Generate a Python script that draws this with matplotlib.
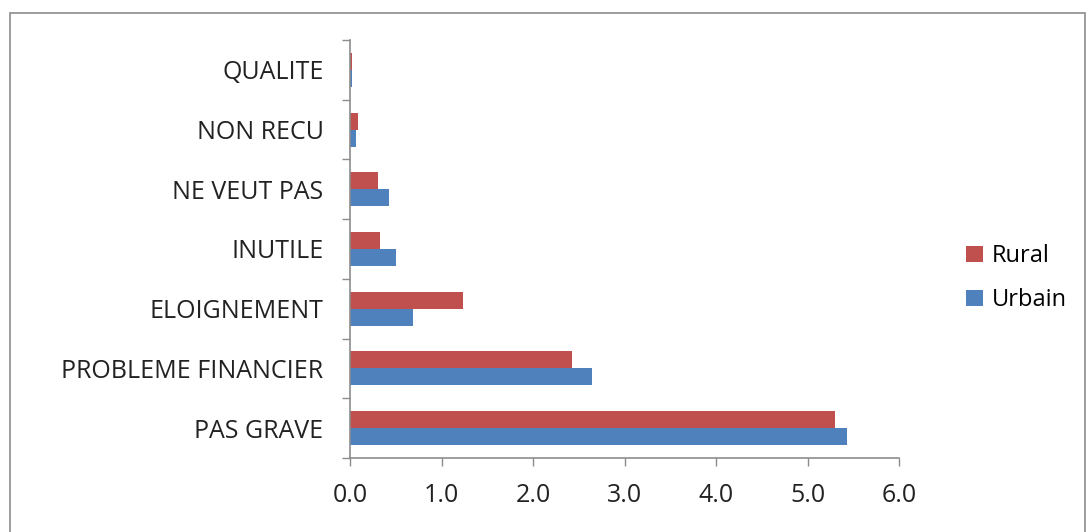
from matplotlib import pyplot as plt
from matplotlib.patches import Rectangle
import numpy as np

categories = ['PAS GRAVE', 'PROBLEME FINANCIER', 'ELOIGNEMENT', 'INUTILE',
              'NE VEUT PAS', 'NON RECU', 'QUALITE']
rural = [5.30, 2.43, 1.23, 0.33, 0.31, 0.09, 0.02]
urbain = [5.43, 2.65, 0.69, 0.50, 0.43, 0.07, 0.02]
xticks = [0.0, 1.0, 2.0, 3.0, 4.0, 5.0, 6.0]

plt.rcParams['font.family'] = ['Open Sans', 'DejaVu Sans']

fig = plt.figure(figsize=(10.9, 5.32), dpi=100)
ax = fig.add_axes([350 / 1090, 1 - 458 / 532, 549 / 1090, 418 / 532])

# outer chart frame
fig.patches.append(Rectangle((10 / 1090, -0.05), 1075 / 1090, 1 - 13 / 532 + 0.05,
                             transform=fig.transFigure, fill=False,
                             edgecolor='#8c8c8c', linewidth=1.2))

y = np.arange(len(categories))
h = 0.285
ax.barh(y + h / 2, rural, height=h, color='#C0504D', label='Rural')
ax.barh(y - h / 2, urbain, height=h, color='#4F81BD', label='Urbain')

ax.set_xlim(0, 6)
ax.set_ylim(-0.5, len(categories) - 0.5)
ax.set_xticks(xticks)
ax.set_xticklabels(['%.1f' % v for v in xticks], fontsize=18, color='#222222')
ax.set_yticks(y)
ax.set_yticklabels(categories, fontsize=18, color='#222222')
ax.set_yticks(np.arange(len(categories) + 1) - 0.5, minor=True)

ax.tick_params(axis='y', which='major', length=0, pad=19)
ax.tick_params(axis='y', which='minor', length=6, color='#8c8c8c', width=1)
ax.tick_params(axis='x', length=6, color='#8c8c8c', width=1, pad=12)

for s in ['top', 'right']:
    ax.spines[s].set_visible(False)
for s in ['left', 'bottom']:
    ax.spines[s].set_color('#8c8c8c')
    ax.spines[s].set_linewidth(1.2)

ax.legend(loc='center left', bbox_to_anchor=(966 / 1090, 0.477),
          bbox_transform=fig.transFigure, frameon=False, fontsize=17,
          handlelength=0.7, handleheight=0.7, handletextpad=0.4,
          labelspacing=0.85, borderpad=0, borderaxespad=0)

fig.savefig('out.png', dpi=100)
